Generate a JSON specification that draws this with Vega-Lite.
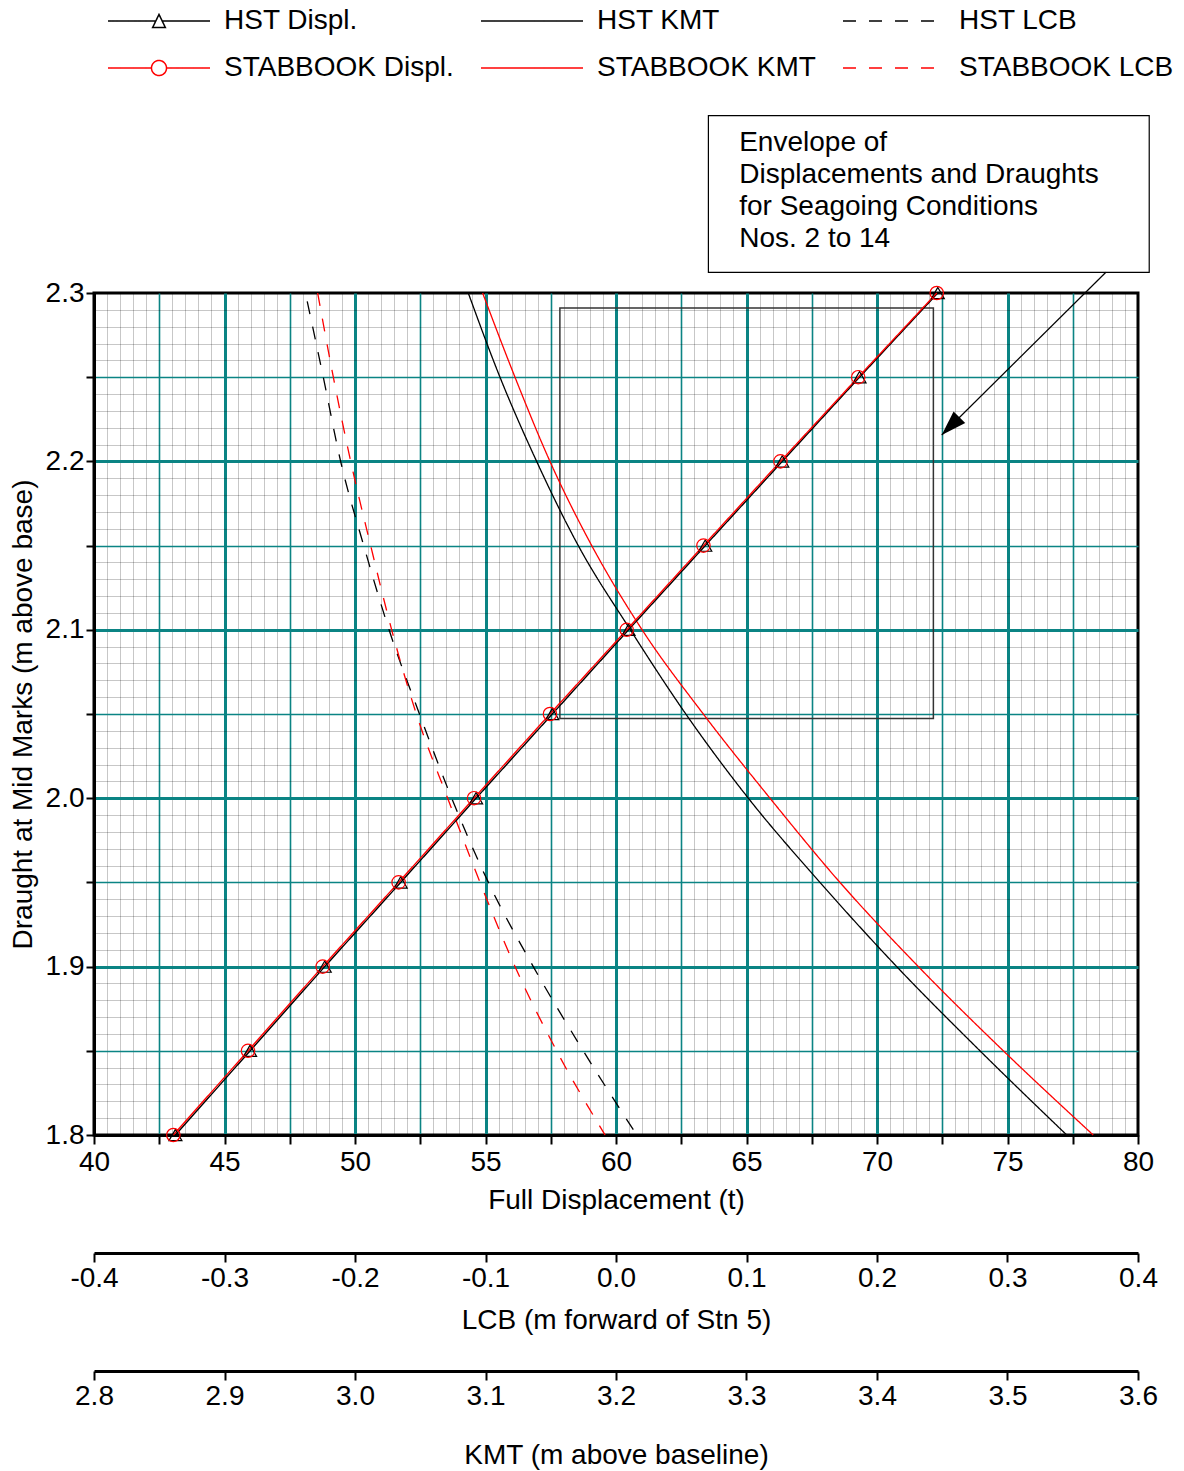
{
  "$schema": "https://vega.github.io/schema/vega-lite/v6.json",
  "autosize": {"type": "none"},
  "padding": {"left": 94, "top": 293, "right": 46, "bottom": 336},
  "width": 1044,
  "height": 842,
  "background": "white",
  "config": {
    "font": "Liberation Sans",
    "view": {"stroke": "black", "strokeWidth": 3},
    "axis": {"labelColor": "black", "titleColor": "black", "labelFontSize": 28, "titleFontSize": 28, "titleFontWeight": "normal", "tickColor": "black", "domainColor": "black", "labelFlush": false, "labelOverlap": false}
  },
  "datasets": {
    "displ": [
      {"series": "HST Displ.", "draught": 1.8, "disp": 43.12},
      {"series": "HST Displ.", "draught": 1.85, "disp": 45.98},
      {"series": "HST Displ.", "draught": 1.9, "disp": 48.84},
      {"series": "HST Displ.", "draught": 1.95, "disp": 51.75},
      {"series": "HST Displ.", "draught": 2.0, "disp": 54.64},
      {"series": "HST Displ.", "draught": 2.05, "disp": 57.56},
      {"series": "HST Displ.", "draught": 2.1, "disp": 60.48},
      {"series": "HST Displ.", "draught": 2.15, "disp": 63.42},
      {"series": "HST Displ.", "draught": 2.2, "disp": 66.37},
      {"series": "HST Displ.", "draught": 2.25, "disp": 69.33},
      {"series": "HST Displ.", "draught": 2.3, "disp": 72.33},
      {"series": "STABBOOK Displ.", "draught": 1.8, "disp": 43.04},
      {"series": "STABBOOK Displ.", "draught": 1.85, "disp": 45.9},
      {"series": "STABBOOK Displ.", "draught": 1.9, "disp": 48.76},
      {"series": "STABBOOK Displ.", "draught": 1.95, "disp": 51.67},
      {"series": "STABBOOK Displ.", "draught": 2.0, "disp": 54.56},
      {"series": "STABBOOK Displ.", "draught": 2.05, "disp": 57.47},
      {"series": "STABBOOK Displ.", "draught": 2.1, "disp": 60.41},
      {"series": "STABBOOK Displ.", "draught": 2.15, "disp": 63.35},
      {"series": "STABBOOK Displ.", "draught": 2.2, "disp": 66.3},
      {"series": "STABBOOK Displ.", "draught": 2.25, "disp": 69.28},
      {"series": "STABBOOK Displ.", "draught": 2.3, "disp": 72.29}
    ],
    "kmt": [
      {"series": "HST KMT", "draught": 2.3, "kmt": 3.0868},
      {"series": "HST KMT", "draught": 2.25, "kmt": 3.1111},
      {"series": "HST KMT", "draught": 2.2, "kmt": 3.1392},
      {"series": "HST KMT", "draught": 2.15, "kmt": 3.1711},
      {"series": "HST KMT", "draught": 2.1, "kmt": 3.211},
      {"series": "HST KMT", "draught": 2.05, "kmt": 3.2535},
      {"series": "HST KMT", "draught": 2.0, "kmt": 3.3014},
      {"series": "HST KMT", "draught": 1.95, "kmt": 3.3563},
      {"series": "HST KMT", "draught": 1.9, "kmt": 3.4151},
      {"series": "HST KMT", "draught": 1.85, "kmt": 3.4789},
      {"series": "HST KMT", "draught": 1.8, "kmt": 3.5454},
      {"series": "STABBOOK KMT", "draught": 2.3, "kmt": 3.0978},
      {"series": "STABBOOK KMT", "draught": 2.25, "kmt": 3.1226},
      {"series": "STABBOOK KMT", "draught": 2.2, "kmt": 3.1494},
      {"series": "STABBOOK KMT", "draught": 2.15, "kmt": 3.1814},
      {"series": "STABBOOK KMT", "draught": 2.1, "kmt": 3.22},
      {"series": "STABBOOK KMT", "draught": 2.05, "kmt": 3.2669},
      {"series": "STABBOOK KMT", "draught": 2.0, "kmt": 3.318},
      {"series": "STABBOOK KMT", "draught": 1.95, "kmt": 3.3716},
      {"series": "STABBOOK KMT", "draught": 1.9, "kmt": 3.4317},
      {"series": "STABBOOK KMT", "draught": 1.85, "kmt": 3.4968},
      {"series": "STABBOOK KMT", "draught": 1.8, "kmt": 3.5657}
    ],
    "lcb": [
      {"series": "HST LCB", "draught": 2.295, "lcb": -0.2366},
      {"series": "HST LCB", "draught": 2.25, "lcb": -0.2243},
      {"series": "HST LCB", "draught": 2.2, "lcb": -0.211},
      {"series": "HST LCB", "draught": 2.15, "lcb": -0.1933},
      {"series": "HST LCB", "draught": 2.1, "lcb": -0.1739},
      {"series": "HST LCB", "draught": 2.05, "lcb": -0.1506},
      {"series": "HST LCB", "draught": 2.0, "lcb": -0.1259},
      {"series": "HST LCB", "draught": 1.95, "lcb": -0.0978},
      {"series": "HST LCB", "draught": 1.9, "lcb": -0.0634},
      {"series": "HST LCB", "draught": 1.85, "lcb": -0.0251},
      {"series": "HST LCB", "draught": 1.8, "lcb": 0.0159},
      {"series": "STABBOOK LCB", "draught": 2.3, "lcb": -0.2286},
      {"series": "STABBOOK LCB", "draught": 2.25, "lcb": -0.2166},
      {"series": "STABBOOK LCB", "draught": 2.2, "lcb": -0.2033},
      {"series": "STABBOOK LCB", "draught": 2.15, "lcb": -0.188},
      {"series": "STABBOOK LCB", "draught": 2.1, "lcb": -0.1719},
      {"series": "STABBOOK LCB", "draught": 2.05, "lcb": -0.153},
      {"series": "STABBOOK LCB", "draught": 2.0, "lcb": -0.129},
      {"series": "STABBOOK LCB", "draught": 1.95, "lcb": -0.1042},
      {"series": "STABBOOK LCB", "draught": 1.9, "lcb": -0.0774},
      {"series": "STABBOOK LCB", "draught": 1.85, "lcb": -0.0455},
      {"series": "STABBOOK LCB", "draught": 1.8, "lcb": -0.0084}
    ],
    "envelope": [
      {"disp_min": 57.85, "disp_max": 72.16, "draught_min": 2.0474, "draught_max": 2.2911}
    ],
    "annotation": [
      {"label": "Envelope of\nDisplacements and Draughts\nfor Seagoing Conditions\nNos. 2 to 14", "box_x1": 63.54, "box_x2": 80.43, "box_y1": 2.3123, "box_y2": 2.4053, "text_x": 64.72, "text_y": 2.3845, "arrow_x1": 78.77, "arrow_y1": 2.3123, "arrow_x2": 72.48, "arrow_y2": 2.2157}
    ],
    "legend": [
      {"series": "HST Displ."},
      {"series": "STABBOOK Displ."},
      {"series": "HST KMT"},
      {"series": "STABBOOK KMT"},
      {"series": "HST LCB"},
      {"series": "STABBOOK LCB"}
    ]
  },
  "layer": [
    {
      "data": {"name": "envelope"},
      "mark": {"type": "rect", "fill": "transparent", "stroke": "#333333", "strokeWidth": 1.5},
      "encoding": {
        "x": {"field": "disp_min", "type": "quantitative", "scale": {"domain": [40, 80], "nice": false, "zero": false},
          "axis": {"orient": "bottom", "values": [40.5,41,41.5,42,42.5,43,43.5,44,44.5,45,45.5,46,46.5,47,47.5,48,48.5,49,49.5,50,50.5,51,51.5,52,52.5,53,53.5,54,54.5,55,55.5,56,56.5,57,57.5,58,58.5,59,59.5,60,60.5,61,61.5,62,62.5,63,63.5,64,64.5,65,65.5,66,66.5,67,67.5,68,68.5,69,69.5,70,70.5,71,71.5,72,72.5,73,73.5,74,74.5,75,75.5,76,76.5,77,77.5,78,78.5,79,79.5], "grid": true, "gridColor": "black", "gridOpacity": 0.22, "gridWidth": 1, "labels": false, "ticks": false, "domain": false, "title": null}},
        "x2": {"field": "disp_max"},
        "y": {"field": "draught_min", "type": "quantitative", "scale": {"domain": [1.8, 2.3], "nice": false, "zero": false},
          "axis": {"orient": "left", "values": [1.81,1.82,1.83,1.84,1.85,1.86,1.87,1.88,1.89,1.9,1.91,1.92,1.93,1.94,1.95,1.96,1.97,1.98,1.99,2.0,2.01,2.02,2.03,2.04,2.05,2.06,2.07,2.08,2.09,2.1,2.11,2.12,2.13,2.14,2.15,2.16,2.17,2.18,2.19,2.2,2.21,2.22,2.23,2.24,2.25,2.26,2.27,2.28,2.29], "grid": true, "gridColor": "black", "gridOpacity": 0.22, "gridWidth": 1, "labels": false, "ticks": false, "domain": false, "title": null}},
        "y2": {"field": "draught_max"}
      }
    },
    {
      "data": {"name": "kmt"},
      "transform": [{"filter": "datum.series == 'HST KMT'"}],
      "mark": {"type": "line", "strokeWidth": 1.3, "interpolate": "monotone"},
      "encoding": {
        "x": {"field": "kmt", "type": "quantitative", "scale": {"domain": [2.8, 3.6], "nice": false, "zero": false},
          "axis": {"orient": "bottom", "offset": 236, "values": [2.8,2.9,3.0,3.1,3.2,3.3,3.4,3.5,3.6], "format": ".1f", "grid": false, "tickSize": 9, "tickWidth": 2, "domainWidth": 3, "labelPadding": 2, "title": "KMT (m above baseline)", "titlePadding": 31}},
        "y": {"field": "draught", "type": "quantitative", "scale": {"domain": [1.8, 2.3], "nice": false, "zero": false},
          "axis": {"orient": "left", "values": [1.85,1.95,2.05,2.15,2.25], "grid": true, "gridColor": "#0b8484", "gridWidth": 1.6, "labels": false, "ticks": false, "domain": false, "title": null}},
        "color": {"field": "series", "type": "nominal", "scale": {"domain": ["HST Displ.", "STABBOOK Displ.", "HST KMT", "STABBOOK KMT", "HST LCB", "STABBOOK LCB"], "range": ["black", "#ff0000", "black", "#ff0000", "black", "#ff0000"]},
          "legend": {"orient": "none", "legendX": 14, "legendY": -287, "columns": 3, "title": null, "labelFontSize": 28, "labelColor": "black", "labelOffset": 50, "symbolOffset": 36, "labelLimit": 600, "symbolSize": 784, "symbolStrokeWidth": 1.5, "symbolOpacity": 1, "rowPadding": 18, "columnPadding": 23, "padding": 0}},
        "strokeDash": {"field": "series", "type": "nominal", "scale": {"domain": ["HST Displ.", "STABBOOK Displ.", "HST KMT", "STABBOOK KMT", "HST LCB", "STABBOOK LCB"], "range": [[1, 0], [1, 0], [1, 0], [1, 0], [13, 13], [13, 13]]},
          "legend": {"orient": "none", "legendX": 14, "legendY": -287, "columns": 3, "title": null, "labelFontSize": 28, "labelColor": "black", "labelOffset": 50, "symbolOffset": 36, "labelLimit": 600, "symbolSize": 784, "symbolStrokeWidth": 1.5, "symbolOpacity": 1, "rowPadding": 18, "columnPadding": 23, "padding": 0}}
      }
    },
    {
      "data": {"name": "kmt"},
      "transform": [{"filter": "datum.series == 'STABBOOK KMT'"}],
      "mark": {"type": "line", "strokeWidth": 1.3, "interpolate": "monotone"},
      "encoding": {
        "x": {"field": "kmt", "type": "quantitative", "scale": {"domain": [2.8, 3.6], "nice": false, "zero": false}, "axis": null},
        "y": {"field": "draught", "type": "quantitative", "scale": {"domain": [1.8, 2.3], "nice": false, "zero": false},
          "axis": {"orient": "left", "values": [1.9,2.0,2.1,2.2], "grid": true, "gridColor": "#0b8484", "gridWidth": 3, "labels": false, "ticks": false, "domain": false, "title": null}},
        "color": {"field": "series", "type": "nominal"},
        "strokeDash": {"field": "series", "type": "nominal"}
      }
    },
    {
      "data": {"name": "lcb"},
      "transform": [{"filter": "datum.series == 'HST LCB'"}],
      "mark": {"type": "line", "strokeWidth": 1.3, "interpolate": "monotone"},
      "encoding": {
        "x": {"field": "lcb", "type": "quantitative", "scale": {"domain": [-0.4, 0.4], "nice": false, "zero": false},
          "axis": {"orient": "bottom", "offset": 118, "values": [-0.4,-0.3,-0.2,-0.1,0,0.1,0.2,0.3,0.4], "labelExpr": "(datum.value < -0.001 ? '-' : '') + format(abs(datum.value), '.1f')", "grid": false, "tickSize": 9, "tickWidth": 2, "domainWidth": 3, "labelPadding": 2, "title": "LCB (m forward of Stn 5)", "titlePadding": 14}},
        "y": {"field": "draught", "type": "quantitative", "scale": {"domain": [1.8, 2.3], "nice": false, "zero": false},
          "axis": {"orient": "left", "values": [1.8,1.85,1.9,1.95,2.0,2.05,2.1,2.15,2.2,2.25,2.3], "labelExpr": "abs(datum.value*10 - round(datum.value*10)) < 0.001 ? format(datum.value, '.1f') : ''", "grid": false, "tickSize": 8, "tickWidth": 2, "domainWidth": 3, "labelPadding": 2, "title": "Draught at Mid Marks (m above base)", "titlePadding": 8}},
        "color": {"field": "series", "type": "nominal"},
        "strokeDash": {"field": "series", "type": "nominal"}
      }
    },
    {
      "data": {"name": "lcb"},
      "transform": [{"filter": "datum.series == 'STABBOOK LCB'"}],
      "mark": {"type": "line", "strokeWidth": 1.3, "interpolate": "monotone"},
      "encoding": {
        "x": {"field": "lcb", "type": "quantitative", "scale": {"domain": [-0.4, 0.4], "nice": false, "zero": false}, "axis": null},
        "y": {"field": "draught", "type": "quantitative", "scale": {"domain": [1.8, 2.3], "nice": false, "zero": false}, "axis": null},
        "color": {"field": "series", "type": "nominal"},
        "strokeDash": {"field": "series", "type": "nominal"}
      }
    },
    {
      "data": {"name": "displ"},
      "transform": [{"filter": "datum.series == 'HST Displ.'"}],
      "mark": {"type": "line", "strokeWidth": 1.4},
      "encoding": {
        "x": {"field": "disp", "type": "quantitative", "scale": {"domain": [40, 80], "nice": false, "zero": false},
          "axis": {"orient": "bottom", "values": [42.5,47.5,52.5,57.5,62.5,67.5,72.5,77.5], "grid": true, "gridColor": "#0b8484", "gridWidth": 1.6, "labels": false, "ticks": false, "domain": false, "title": null}},
        "y": {"field": "draught", "type": "quantitative", "scale": {"domain": [1.8, 2.3], "nice": false, "zero": false}, "axis": null},
        "color": {"field": "series", "type": "nominal"},
        "strokeDash": {"field": "series", "type": "nominal"}
      }
    },
    {
      "data": {"name": "displ"},
      "transform": [{"filter": "datum.series == 'STABBOOK Displ.'"}],
      "mark": {"type": "line", "strokeWidth": 1.4},
      "encoding": {
        "x": {"field": "disp", "type": "quantitative", "scale": {"domain": [40, 80], "nice": false, "zero": false},
          "axis": {"orient": "bottom", "values": [45,50,55,60,65,70,75], "grid": true, "gridColor": "#0b8484", "gridWidth": 3, "labels": false, "ticks": false, "domain": false, "title": null}},
        "y": {"field": "draught", "type": "quantitative", "scale": {"domain": [1.8, 2.3], "nice": false, "zero": false}, "axis": null},
        "color": {"field": "series", "type": "nominal"},
        "strokeDash": {"field": "series", "type": "nominal"}
      }
    },
    {
      "data": {"name": "displ"},
      "transform": [{"filter": "datum.series == 'HST Displ.'"}],
      "mark": {"type": "point", "shape": "triangle-up", "size": 169, "strokeWidth": 1.2, "filled": false, "opacity": 1},
      "encoding": {
        "x": {"field": "disp", "type": "quantitative", "scale": {"domain": [40, 80], "nice": false, "zero": false},
          "axis": {"orient": "bottom", "values": [40,42.5,45,47.5,50,52.5,55,57.5,60,62.5,65,67.5,70,72.5,75,77.5,80], "labelExpr": "datum.value % 5 == 0 ? datum.label : ''", "grid": false, "tickSize": 9, "tickWidth": 2, "domainWidth": 3, "labelPadding": 4, "title": "Full Displacement (t)", "titlePadding": 10}},
        "y": {"field": "draught", "type": "quantitative", "scale": {"domain": [1.8, 2.3], "nice": false, "zero": false}, "axis": null},
        "color": {"field": "series", "type": "nominal"}
      }
    },
    {
      "data": {"name": "displ"},
      "transform": [{"filter": "datum.series == 'STABBOOK Displ.'"}],
      "mark": {"type": "point", "shape": "circle", "size": 180, "strokeWidth": 1.2, "filled": false, "opacity": 1},
      "encoding": {
        "x": {"field": "disp", "type": "quantitative", "scale": {"domain": [40, 80], "nice": false, "zero": false}, "axis": null},
        "y": {"field": "draught", "type": "quantitative", "scale": {"domain": [1.8, 2.3], "nice": false, "zero": false}, "axis": null},
        "color": {"field": "series", "type": "nominal"}
      }
    },
    {
      "data": {"name": "annotation"},
      "mark": {"type": "rect", "fill": "white", "stroke": "black", "strokeWidth": 1.2},
      "encoding": {
        "x": {"field": "box_x1", "type": "quantitative", "scale": {"domain": [40, 80], "nice": false, "zero": false}, "axis": null},
        "x2": {"field": "box_x2"},
        "y": {"field": "box_y1", "type": "quantitative", "scale": {"domain": [1.8, 2.3], "nice": false, "zero": false}, "axis": null},
        "y2": {"field": "box_y2"}
      }
    },
    {
      "data": {"name": "annotation"},
      "mark": {"type": "text", "align": "left", "baseline": "alphabetic", "fontSize": 28, "lineBreak": "\n", "lineHeight": 32, "color": "black"},
      "encoding": {
        "x": {"field": "text_x", "type": "quantitative", "scale": {"domain": [40, 80], "nice": false, "zero": false}, "axis": null},
        "y": {"field": "text_y", "type": "quantitative", "scale": {"domain": [1.8, 2.3], "nice": false, "zero": false}, "axis": null},
        "text": {"field": "label"}
      }
    },
    {
      "data": {"name": "annotation"},
      "mark": {"type": "rule", "color": "black", "strokeWidth": 1.2},
      "encoding": {
        "x": {"field": "arrow_x1", "type": "quantitative", "scale": {"domain": [40, 80], "nice": false, "zero": false}, "axis": null},
        "x2": {"field": "arrow_x2"},
        "y": {"field": "arrow_y1", "type": "quantitative", "scale": {"domain": [1.8, 2.3], "nice": false, "zero": false}, "axis": null},
        "y2": {"field": "arrow_y2"}
      }
    },
    {
      "data": {"name": "annotation"},
      "mark": {"type": "point", "shape": "M0,0L0.33,1L-0.33,1Z", "angle": 225, "size": 2500, "filled": true, "color": "black", "opacity": 1},
      "encoding": {
        "x": {"field": "arrow_x2", "type": "quantitative", "scale": {"domain": [40, 80], "nice": false, "zero": false}, "axis": null},
        "y": {"field": "arrow_y2", "type": "quantitative", "scale": {"domain": [1.8, 2.3], "nice": false, "zero": false}, "axis": null}
      }
    },
    {
      "data": {"name": "legend"},
      "mark": {"type": "point", "opacity": 0, "filled": false, "size": 784, "strokeWidth": 1.5},
      "encoding": {
        "color": {"field": "series", "type": "nominal"},
        "strokeDash": {"field": "series", "type": "nominal"},
        "shape": {"field": "series", "type": "nominal", "scale": {"domain": ["HST Displ.", "STABBOOK Displ.", "HST KMT", "STABBOOK KMT", "HST LCB", "STABBOOK LCB"], "range": ["M-3.643,0H-0.23M0.23,0H3.643M0,-0.473L0.457,0.473L-0.457,0.473Z", "M-3.643,0H-0.536M0.536,0H3.643M0.536,0A0.536,0.536 0 1,1 -0.536,0A0.536,0.536 0 1,1 0.536,0Z", "M-3.643,0H3.643", "M-3.643,0H3.643", "M-3.643,0H3.643", "M-3.643,0H3.643"]},
          "legend": {"orient": "none", "legendX": 14, "legendY": -287, "columns": 3, "title": null, "labelFontSize": 28, "labelColor": "black", "labelOffset": 50, "symbolOffset": 36, "labelLimit": 600, "symbolSize": 784, "symbolStrokeWidth": 1.5, "symbolOpacity": 1, "rowPadding": 18, "columnPadding": 23, "padding": 0}}
      }
    }
  ],
  "resolve": {"scale": {"x": "independent"}, "axis": {"x": "independent", "y": "independent"}}
}
